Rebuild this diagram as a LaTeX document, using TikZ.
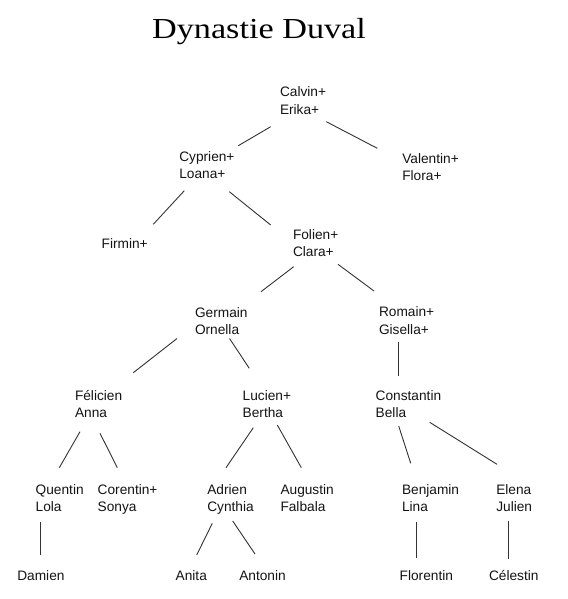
\documentclass[tikz,border=0pt]{standalone}
\usepackage{fontspec}
\setmainfont{Liberation Sans}
\newfontfamily\titlefont[FakeStretch=1.18]{Liberation Serif}
\begin{document}
\begin{tikzpicture}[x=1pt,y=-1pt,
  person/.style={anchor=base west, inner sep=0pt, outer sep=0pt, text=black!92,
    font=\fontsize{13.7}{17.5}\selectfont},
  link/.style={draw=black!80, line width=0.9pt}]
\newcommand{\twoline}[2]{\begin{tabular}[t]{@{}l@{}}#1\\#2\end{tabular}}
\fill[white] (0,0) rectangle (567,599);
\useasboundingbox (0,0) rectangle (567,599);
\node[anchor=base, inner sep=0pt, font=\titlefont\fontsize{29}{34}\selectfont] (title) at (259,38.3) {Dynastie Duval};
% nodes
\node[person] (calvin) at (280,96.7) {\twoline{Calvin+}{Erika+}};
\node[person] (cyprien) at (179.3,161) {\twoline{Cyprien+}{Loana+}};
\node[person] (valentin) at (402.3,163.3) {\twoline{Valentin+}{Flora+}};
\node[person] (firmin) at (101.7,248.3) {Firmin+};
\node[person] (folien) at (293,239.3) {\twoline{Folien+}{Clara+}};
\node[person] (germain) at (195,317.3) {\twoline{Germain}{Ornella}};
\node[person] (romain) at (379,316.7) {\twoline{Romain+}{Gisella+}};
\node[person] (felicien) at (75,400) {\twoline{Félicien}{Anna}};
\node[person] (lucien) at (242.7,400) {\twoline{Lucien+}{Bertha}};
\node[person] (constantin) at (375.7,400) {\twoline{Constantin}{Bella}};
\node[person] (quentin) at (35.7,494.3) {\twoline{Quentin}{Lola}};
\node[person] (corentin) at (97.7,494.3) {\twoline{Corentin+}{Sonya}};
\node[person] (adrien) at (207.3,494.3) {\twoline{Adrien}{Cynthia}};
\node[person] (augustin) at (280.5,494.3) {\twoline{Augustin}{Falbala}};
\node[person] (benjamin) at (402,494.3) {\twoline{Benjamin}{Lina}};
\node[person] (elena) at (496.3,494.3) {\twoline{Elena}{Julien}};
\node[person] (damien) at (17.3,580) {Damien};
\node[person] (anita) at (175.7,580) {Anita};
\node[person] (antonin) at (239.3,580) {Antonin};
\node[person] (florentin) at (399.7,580) {Florentin};
\node[person] (celestin) at (489,580) {Célestin};
% connectors
\draw[link] ([shift={(-9.3,30)}]calvin.base west) -- ([shift={(59,-15.3)}]cyprien.base west);
\draw[link] ([shift={(46.3,25)}]calvin.base west) -- ([shift={(-25,-15)}]valentin.base west);
\draw[link] ([shift={(5,29.7)}]cyprien.base west) -- ([shift={(51.6,-24)}]firmin.base west);
\draw[link] ([shift={(50,30.7)}]cyprien.base west) -- ([shift={(-22.3,-14.3)}]folien.base west);
\draw[link] ([shift={(0.7,27.4)}]folien.base west) -- ([shift={(66,-25.6)}]germain.base west);
\draw[link] ([shift={(45,25)}]folien.base west) -- ([shift={(-5,-25.7)}]romain.base west);
\draw[link] ([shift={(-18,21.2)}]germain.base west) -- ([shift={(58.3,-27.3)}]felicien.base west);
\draw[link] ([shift={(34.5,21.2)}]germain.base west) -- ([shift={(6.6,-31.7)}]lucien.base west);
\draw[link] ([shift={(19,25.3)}]romain.base west) -- ([shift={(22.3,-24)}]constantin.base west);
\draw[link] ([shift={(5,31.7)}]felicien.base west) -- ([shift={(23.6,-26.6)}]quentin.base west);
\draw[link] ([shift={(25,33.3)}]felicien.base west) -- ([shift={(19.6,-26.6)}]corentin.base west);
\draw[link] ([shift={(10.6,27.7)}]lucien.base west) -- ([shift={(18.7,-26.6)}]adrien.base west);
\draw[link] ([shift={(34.6,25)}]lucien.base west) -- ([shift={(20.8,-26.6)}]augustin.base west);
\draw[link] ([shift={(23,26)}]constantin.base west) -- ([shift={(8.7,-31)}]benjamin.base west);
\draw[link] ([shift={(54,22.3)}]constantin.base west) -- ([shift={(0.7,-30)}]elena.base west);
\draw[link] ([shift={(5,28)}]quentin.base west) -- ([shift={(23.4,-25)}]damien.base west);
\draw[link] ([shift={(5,29)}]adrien.base west) -- ([shift={(21,-25)}]anita.base west);
\draw[link] ([shift={(25.4,26.7)}]adrien.base west) -- ([shift={(15.7,-26)}]antonin.base west);
\draw[link] ([shift={(14.3,27.4)}]benjamin.base west) -- ([shift={(16.6,-21.7)}]florentin.base west);
\draw[link] ([shift={(12.4,26.4)}]elena.base west) -- ([shift={(19.7,-20.7)}]celestin.base west);
\end{tikzpicture}
\end{document}
